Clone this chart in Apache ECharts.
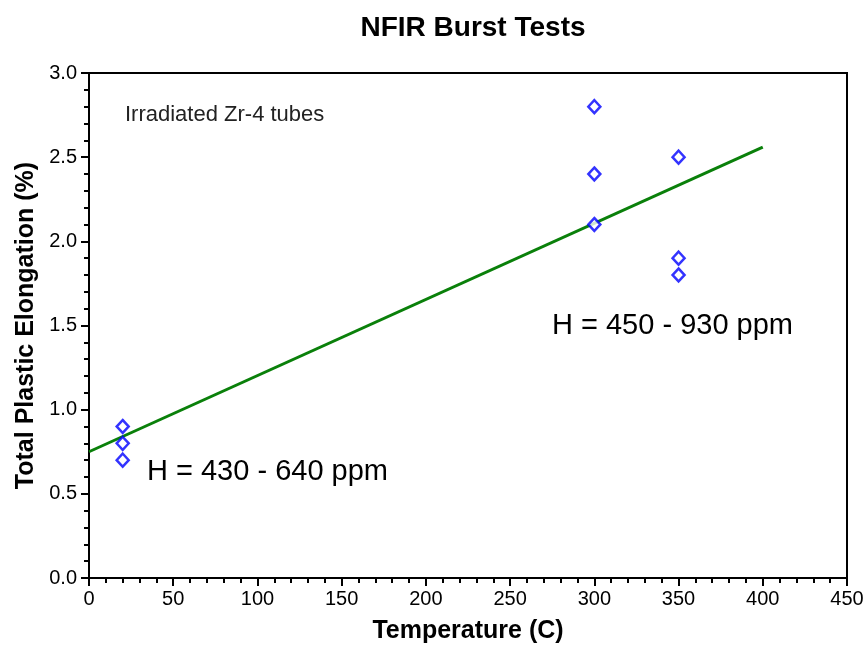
<!DOCTYPE html>
<html>
<head>
<meta charset="utf-8">
<script src="https://cdn.jsdelivr.net/npm/echarts@6/dist/echarts.min.js"></script>
<style>
  html, body { margin: 0; padding: 0; background: #fff; }
  #chart { width: 867px; height: 650px; }
</style>
</head>
<body>
<div id="chart"></div>
<script>
// Burst test measurements: temperature (C) and total plastic elongation (%)
const temperatures = [20, 20, 20, 300, 300, 300, 350, 350, 350];
const elongations  = [0.9, 0.8, 0.7, 2.8, 2.4, 2.1, 2.5, 1.9, 1.8];

// Linear trend line end points
const fitTemps = [0, 400];
const fitElong = [0.75, 2.56];

// Axis settings
const xMin = 0, xMax = 450, xStep = 50;
const yMin = 0, yMax = 3.0, yStep = 0.5;

const font = 'Arial, "Liberation Sans", sans-serif';

const points = temperatures.map((t, i) => [t, elongations[i]]);
const fitLine = fitTemps.map((t, i) => [t, fitElong[i]]);

const chart = echarts.init(document.getElementById('chart'));
chart.setOption({
  animation: false,
  backgroundColor: '#fff',
  title: {
    text: 'NFIR Burst Tests',
    left: 468,
    textAlign: 'center',
    top: 9,
    textStyle: { fontFamily: font, fontWeight: 'bold', fontSize: 28, color: '#000' }
  },
  grid: {
    left: 89, right: 20, top: 73, bottom: 72,
    show: true, borderColor: '#000', borderWidth: 2, backgroundColor: 'transparent'
  },
  xAxis: {
    type: 'value', min: xMin, max: xMax, interval: xStep,
    name: 'Temperature (C)', nameLocation: 'middle', nameGap: 41,
    nameTextStyle: { fontFamily: font, fontWeight: 'bold', fontSize: 25, color: '#000' },
    axisLine: { show: true, lineStyle: { color: '#000', width: 2 } },
    axisTick: { show: true, inside: false, length: 8, lineStyle: { color: '#000', width: 2 } },
    minorTick: { show: true, splitNumber: 5, length: 5, lineStyle: { color: '#000', width: 2 } },
    axisLabel: { fontFamily: font, fontSize: 20, color: '#000', margin: 11 },
    splitLine: { show: false }
  },
  yAxis: {
    type: 'value', min: yMin, max: yMax, interval: yStep,
    name: 'Total Plastic Elongation (%)', nameLocation: 'middle', nameGap: 50, nameRotate: 90,
    nameTextStyle: { fontFamily: font, fontWeight: 'bold', fontSize: 25, color: '#000' },
    axisLine: { show: true, lineStyle: { color: '#000', width: 2 } },
    axisTick: { show: true, inside: false, length: 8, lineStyle: { color: '#000', width: 2 } },
    minorTick: { show: true, splitNumber: 5, length: 5, lineStyle: { color: '#000', width: 2 } },
    axisLabel: {
      fontFamily: font, fontSize: 20, color: '#000', margin: 12,
      formatter: v => v.toFixed(1)
    },
    splitLine: { show: false }
  },
  series: [
    {
      type: 'line',
      data: fitLine,
      symbol: 'none',
      lineStyle: { color: '#0a800a', width: 3 },
      z: 2
    },
    {
      type: 'scatter',
      data: points,
      symbol: 'diamond',
      symbolSize: [12, 13],
      itemStyle: { color: '#fff', borderColor: '#0000ff', borderWidth: 2.5 },
      z: 3
    }
  ],
  graphic: [
    {
      type: 'text', left: 125, top: 104,
      style: { text: 'Irradiated Zr-4 tubes', fontFamily: font, fontSize: 22, fill: '#222' }
    },
    {
      type: 'text', left: 147, top: 457,
      style: { text: 'H = 430 - 640 ppm', fontFamily: font, fontSize: 29, fill: '#000' }
    },
    {
      type: 'text', left: 552, top: 311,
      style: { text: 'H = 450 - 930 ppm', fontFamily: font, fontSize: 29, fill: '#000' }
    }
  ]
});
</script>
</body>
</html>
